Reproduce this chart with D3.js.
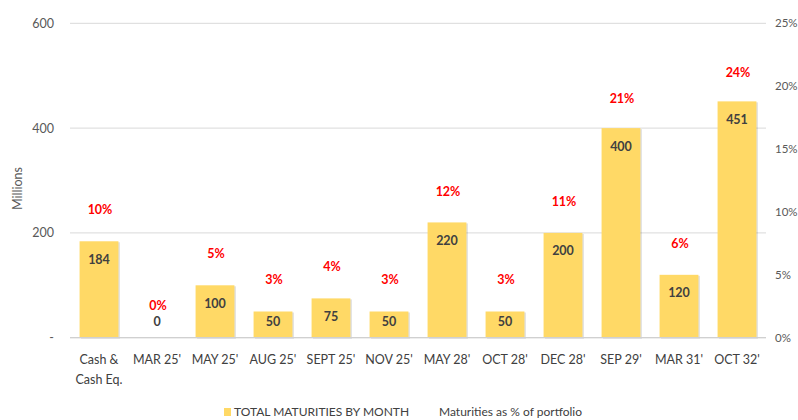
<!DOCTYPE html>
<html><head><meta charset="utf-8">
<script src="https://cdn.jsdelivr.net/npm/d3@7"></script>
<style>
html,body{margin:0;padding:0;background:#fff;}
svg{display:block;font-family:Lato,"Open Sans",sans-serif;}
</style></head>
<body>
<svg id="chart" width="798" height="420"></svg>
<script>
const categories = [["Cash &","Cash Eq."],["MAR 25'"],["MAY 25'"],["AUG 25'"],["SEPT 25'"],["NOV 25'"],["MAY 28'"],["OCT 28'"],["DEC 28'"],["SEP 29'"],["MAR 31'"],["OCT 32'"]];
const maturities = [184, 0, 100, 50, 75, 50, 220, 50, 200, 400, 120, 451];
const pctOfPortfolio = [0.097, 0, 0.053, 0.026, 0.039, 0.026, 0.116, 0.026, 0.1053, 0.211, 0.063, 0.237];
const leftTicks = [0, 200, 400, 600];
const rightTicks = [0, 0.05, 0.10, 0.15, 0.20, 0.25];
const legendLabels = ["TOTAL MATURITIES BY MONTH", "Maturities as % of portfolio"];

const svg = d3.select("#chart");
const L = 70, R = 766, T = 23.3, B = 337.7;
const x = d3.scaleBand().domain(d3.range(categories.length)).range([L, R]).paddingInner(0.33).paddingOuter(0.165);
const y = d3.scaleLinear().domain([0, 600]).range([B, T]);
const y2 = d3.scaleLinear().domain([0, 0.25]).range([B, T]);
// hidden scale used to position the percentage data labels
const yLbl = d3.scaleLinear().domain([0, 0.25]).range([305, 60]);

// gridlines
svg.append("g").selectAll("line").data(leftTicks).join("line")
  .attr("x1", L).attr("x2", R).attr("y1", d => y(d)).attr("y2", d => y(d))
  .attr("stroke", "#d9d9d9").attr("stroke-width", 1);

// left axis
const leftAxis = d3.axisLeft(y).tickValues(leftTicks).tickSize(0).tickPadding(16)
  .tickFormat(d => d === 0 ? "-" : d3.format("d")(d));
const gl = svg.append("g").attr("transform", `translate(${L},0)`).call(leftAxis);
gl.select(".domain").remove();
gl.selectAll("text").attr("fill", "#595959").attr("font-size", 12.5).attr("font-family", "Lato");

// right axis
const rightAxis = d3.axisRight(y2).tickValues(rightTicks).tickSize(0).tickPadding(9)
  .tickFormat(d3.format(".0%"));
const gr = svg.append("g").attr("transform", `translate(${R},0)`).call(rightAxis);
gr.select(".domain").remove();
gr.selectAll("text").attr("fill", "#595959").attr("font-size", 11.5).attr("font-family", "Lato");

// y title
svg.append("text").attr("transform", `translate(22,${(T+B)/2+8}) rotate(-90)`)
  .attr("text-anchor", "middle").attr("fill", "#595959").attr("font-size", 12.5)
  .text("Millions");

// bar shadows
svg.append("g").selectAll("rect").data(maturities).join("rect")
  .attr("x", (d,i) => x(i) + 1.5).attr("y", d => y(d) + 1)
  .attr("width", x.bandwidth()).attr("height", d => B - y(d))
  .attr("fill", "#000").attr("opacity", d => d > 0 ? 0.12 : 0);

// bars
svg.append("g").selectAll("rect").data(maturities).join("rect")
  .attr("x", (d,i) => x(i)).attr("y", d => y(d))
  .attr("width", x.bandwidth()).attr("height", d => B - y(d))
  .attr("fill", "#FFD966");

// baseline
svg.append("line").attr("x1", L).attr("x2", R).attr("y1", B).attr("y2", B)
  .attr("stroke", "#d0d0d0").attr("stroke-width", 1.2);

// value labels
svg.append("g").selectAll("text").data(maturities).join("text")
  .attr("x", (d,i) => x(i) + x.bandwidth()/2)
  .attr("y", d => Math.min(y(d) + 18, B - 16) + 4.5)
  .attr("text-anchor", "middle").attr("font-size", 12.5).attr("font-weight", "bold")
  .attr("fill", "#404040").text(d => d);

// percentage labels
svg.append("g").selectAll("text").data(pctOfPortfolio).join("text")
  .attr("x", (d,i) => x(i) + x.bandwidth()/2 + 1)
  .attr("y", d => yLbl(d) + 4.5)
  .attr("text-anchor", "middle").attr("font-size", 12.5).attr("font-weight", "bold")
  .attr("fill", "#FF0000").text(d => d3.format(".0%")(d));

// x labels
const xl = svg.append("g").selectAll("text").data(categories).join("text")
  .attr("text-anchor", "middle").attr("font-size", 12.5).attr("fill", "#404040")
  .attr("font-family", "Lato");
xl.each(function(lines, i) {
  const t = d3.select(this);
  lines.forEach((s, k) => {
    t.append("tspan").attr("x", x(i) + x.bandwidth()/2).attr("y", 363.5 + k * 20).text(s);
  });
});

// legend
const lg = svg.append("g").attr("font-size", 12).attr("fill", "#404040");
lg.append("rect").attr("x", 224).attr("y", 408).attr("width", 7).attr("height", 8).attr("fill", "#FFD966");
lg.append("text").attr("x", 234).attr("y", 416).text(legendLabels[0]);
lg.append("text").attr("x", 439).attr("y", 416).text(legendLabels[1]);
</script>
</body></html>
